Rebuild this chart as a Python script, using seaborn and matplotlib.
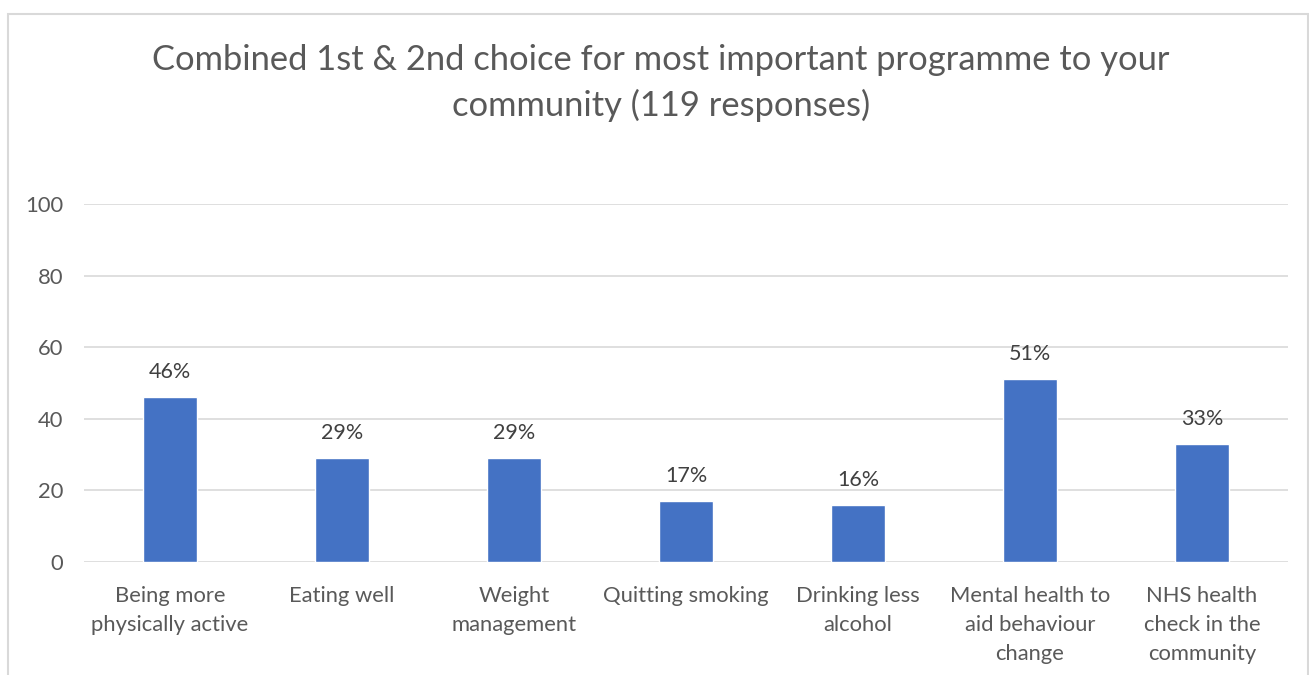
import matplotlib
matplotlib.use("Agg")
import matplotlib.pyplot as plt
import seaborn as sns
import pandas as pd
from matplotlib.patches import Rectangle

# Survey results: combined 1st & 2nd choice (% of 119 responses)
categories = [
    "Being more\nphysically active",
    "Eating well",
    "Weight\nmanagement",
    "Quitting smoking",
    "Drinking less\nalcohol",
    "Mental health to\naid behaviour\nchange",
    "NHS health\ncheck in the\ncommunity",
]
percentages = [46, 29, 29, 17, 16, 51, 33]
y_ticks = [0, 20, 40, 60, 80, 100]

title = "Combined 1st & 2nd choice for most important programme to your\ncommunity (119 responses)"

sns.set_theme(style="white")
plt.rcParams["font.family"] = ["Lato", "DejaVu Sans"]

W, H = 1309, 675
fig = plt.figure(figsize=(W / 100, H / 100), dpi=100)
ax = fig.add_axes([84 / W, 1 - 562 / H, (1288 - 84) / W, (562 - 204) / H])

df = pd.DataFrame({"category": categories, "pct": percentages})
sns.barplot(data=df, x="category", y="pct", color="#4472C4", width=0.314,
            saturation=1, ax=ax, zorder=3)

ax.set_ylim(0, 100)
ax.set_xlim(-0.5, len(categories) - 0.5)
ax.set_yticks(y_ticks)
ax.set_yticklabels([str(t) for t in y_ticks])
ax.set_xlabel("")
ax.set_ylabel("")
ax.grid(axis="y", color="#D9D9D9", linewidth=1.2, zorder=0)
ax.grid(axis="x", visible=False)
for s in ax.spines.values():
    s.set_visible(False)
ax.tick_params(axis="both", length=0, colors="#595959", labelsize=15.8)
ax.tick_params(axis="y", pad=15)
ax.tick_params(axis="x", pad=17)
for lbl in ax.get_xticklabels():
    lbl.set_linespacing(1.56)
    lbl.set_verticalalignment("top")

for i, v in enumerate(percentages):
    ax.annotate(f"{v}%", (i, v), xytext=(0, 18), textcoords="offset points",
                ha="center", va="center", fontsize=15.5, color="#404040")

fig.text(661 / W, 1 - 83 / H, title, ha="center", va="center",
         fontsize=24.85, color="#595959", linespacing=1.45)

# chart frame
fig.patches.append(Rectangle((8 / W, -0.1), 1300 / W, 1.1 - 14 / H,
                             transform=fig.transFigure, fill=False,
                             edgecolor="#D9D9D9", linewidth=1.5))

fig.savefig("out.png", dpi=100)
